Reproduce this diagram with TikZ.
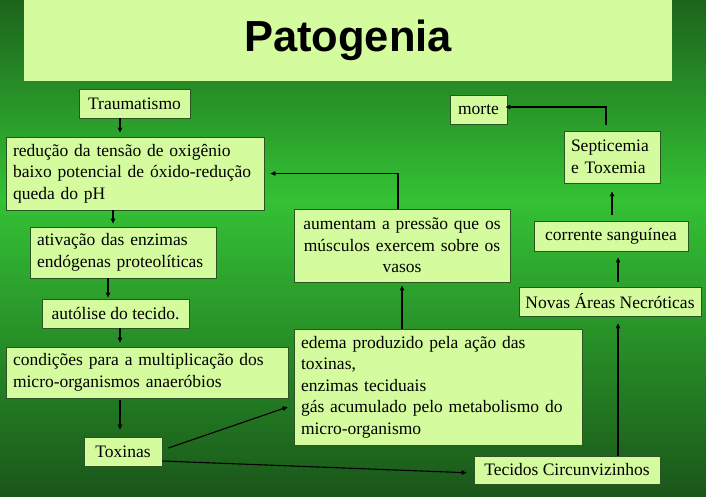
\documentclass[tikz,border=0pt]{standalone}
\usepackage{fontspec}
\setmainfont{Liberation Serif}
\newfontfamily\titlefont{Liberation Sans}
\usetikzlibrary{arrows.meta}
\definecolor{bgtop}{RGB}{28,100,28}
\definecolor{bgmid}{RGB}{52,194,52}
\definecolor{bgbot}{RGB}{26,86,26}
\definecolor{boxfill}{RGB}{212,252,158}
\definecolor{boxline}{RGB}{45,85,35}
\begin{document}
\begin{tikzpicture}[x=1pt, y=-1pt,
	box/.style={draw=boxline, fill=boxfill, line width=0.8pt, inner xsep=7pt, inner ysep=3pt,
		font=\fontsize{17.5}{21.5}\selectfont},
	lbox/.style={box, align=left},
	cbox/.style={box, align=center},
	arr/.style={-{Triangle[length=5pt,width=4.5pt]}, line width=1.1pt}]
	\useasboundingbox (0,0) rectangle (706,496);
	\shade[top color=bgtop, bottom color=bgmid] (0,0) rectangle (706,200);
	\shade[top color=bgmid, bottom color=bgbot] (0,199) rectangle (706,496);

	\node[fill=boxfill, minimum width=648pt, minimum height=81pt,
		font=\titlefont\bfseries\fontsize{43.5}{47}\selectfont] (title) at (348,40.5) {Patogenia};

	% coluna da esquerda
	\node[cbox, minimum width=111pt, minimum height=29pt] (trauma) at (134.5,103.5) {Traumatismo};
	\node[lbox, text width=244pt, minimum height=73pt] (reducao) at (135,173.5)
		{redução da tensão de oxigênio\\ baixo potencial de óxido-redução\\ queda do pH};
	\node[lbox, text width=172pt, minimum height=51pt] (ativacao) at (123,252.5)
		{ativação das enzimas\\ endógenas proteolíticas};
	\node[cbox, minimum width=147pt, minimum height=29pt] (autolise) at (115.5,313.5) {autólise do tecido.};
	\node[lbox, text width=268pt, minimum height=51pt] (condicoes) at (147,372.5)
		{condições para a multiplicação dos\\ micro-organismos anaeróbios};
	\node[cbox, minimum width=78pt, minimum height=29pt] (toxinas) at (123,451.5) {Toxinas};

	% meio e direita
	\node[lbox, text width=274pt, minimum height=116pt] (edema) at (438,387)
		{edema produzido pela ação das\\ toxinas,\\ enzimas teciduais\\ gás acumulado pelo metabolismo do\\ micro-organismo};
	\node[cbox, text width=202pt, minimum height=73pt] (pressao) at (402,245.5)
		{aumentam a pressão que os\\ músculos exercem sobre os\\ vasos};
	\node[cbox, minimum width=186pt, minimum height=28pt] (tecidos) at (567,470) {Tecidos Circunvizinhos};
	\node[cbox, minimum width=182pt, minimum height=29pt, inner xsep=3pt] (novas) at (610,301.5) {Novas Áreas Necróticas};
	\node[cbox, minimum width=154pt, minimum height=30pt] (corrente) at (611,236) {corrente sanguínea};
	\node[lbox, text width=82pt, minimum height=52pt] (septic) at (612,157) {Septicemia\\ e Toxemia};
	\node[cbox, minimum width=57pt, minimum height=29pt, inner xsep=3pt] (morte) at (478.5,109.5) {morte};

	\draw[arr, shorten >=4pt] ([xshift=-14.5pt]trauma.south) -- ([xshift=-15pt]reducao.north);
	\draw[arr, shorten >=3pt] ([xshift=-22pt]reducao.south) -- ([xshift=-10pt]ativacao.north);
	\draw[arr, shorten >=1pt] ([xshift=-15pt]ativacao.south) -- ([xshift=-7.5pt]autolise.north);
	\draw[arr, shorten >=4pt] ([xshift=4.5pt]autolise.south) -- ([xshift=-27pt]condicoes.north);
	\draw[arr, shorten <=2pt, shorten >=7pt] ([xshift=-27pt]condicoes.south) -- ([xshift=-3pt]toxinas.north);
	\draw[arr] ([shift={(6pt,3.5pt)}]toxinas.east) -- ([shift={(-6pt,-20pt)}]edema.west);
	\draw[arr, shorten >=7pt] ([yshift=-9.5pt]toxinas.east) -- ([yshift=-3pt]tecidos.west);
	\draw[arr, shorten >=3pt] ([xshift=-36pt]edema.north) -- (pressao.south);
	\draw[arr, shorten >=6pt] ([xshift=-4pt]pressao.north) |- (reducao.east);
	\draw[arr, shorten >=7pt] ([xshift=51pt]tecidos.north) -- ([xshift=8pt]novas.south);
	\draw[arr, shorten <=5pt, shorten >=6pt] ([xshift=8pt]novas.north) -- ([xshift=7pt]corrente.south);
	\draw[arr, shorten <=6pt, shorten >=8pt] ([xshift=1pt]corrente.north) -- (septic.south);
	\draw[arr, shorten <=6pt, shorten >=-2pt] ([xshift=-6pt]septic.north) |- ([yshift=2.5pt]morte.east);
\end{tikzpicture}
\end{document}
